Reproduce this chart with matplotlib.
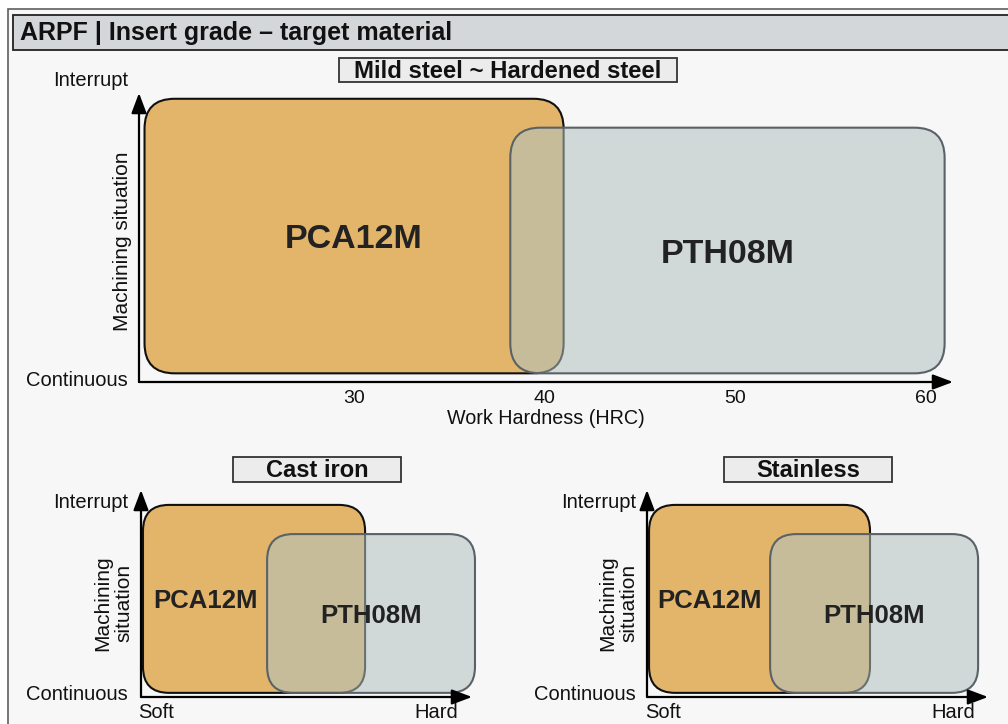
import matplotlib
matplotlib.use("Agg")
import matplotlib.pyplot as plt
from matplotlib.patches import FancyBboxPatch, Rectangle

plt.rcParams['font.family'] = ['Liberation Sans', 'DejaVu Sans']

W, H = 1008, 724

# ---------------- data ----------------
title = "ARPF | Insert grade – target material"
grades = ["PCA12M", "PTH08M"]
grade_face = ["#e2b56b", (0.69, 0.76, 0.75, 0.55)]
grade_edge = ["#111111", "#5a6268"]

# top chart: work hardness (HRC) vs machining situation (0 = continuous, 1 = interrupt)
steel_title = "Mild steel ~ Hardened steel"
steel_hrc_lo = [19.0, 38.2]
steel_hrc_hi = [41.0, 61.0]
steel_sit_lo = [0.03, 0.03]
steel_sit_hi = [0.98, 0.88]
hrc_ticks = [30, 40, 50, 60]
hrc_range = [18.71, 61.44]

# bottom charts: relative hardness (0 = soft, 1 = hard)
cast_title = "Cast iron"
cast_hard_lo = [0.006, 0.381]
cast_hard_hi = [0.677, 1.009]
cast_sit_lo = [0.02, 0.02]
cast_sit_hi = [0.928, 0.787]

stain_title = "Stainless"
stain_hard_lo = [0.006, 0.361]
stain_hard_hi = [0.654, 0.971]
stain_sit_lo = [0.02, 0.02]
stain_sit_hi = [0.928, 0.787]

TXT = "#111111"
LAB = 14.5

fig = plt.figure(figsize=(W / 100, H / 100), dpi=100, facecolor="white")

# background / frame in pixel coordinates
bg = fig.add_axes([0, 0, 1, 1], zorder=0)
bg.set_xlim(0, W)
bg.set_ylim(H, 0)
bg.axis("off")
bg.add_patch(Rectangle((8, 9), W, H, fc="#f7f7f7", ec="#5f5f5f", lw=1.2))
bg.add_patch(Rectangle((13, 15), W, 35, fc="#d3d7da", ec="#222222", lw=1.3))
bg.text(20, 33, title, fontsize=18, fontweight="bold", color=TXT, va="center", ha="left")


def heading(x0, x1, y0, y1, text, size):
    bg.add_patch(Rectangle((x0, y0), x1 - x0, y1 - y0, fc="#ececec", ec="#333333", lw=1.3))
    bg.text((x0 + x1) / 2, (y0 + y1) / 2 + 1, text, fontsize=size, fontweight="bold",
            color=TXT, ha="center", va="center")


heading(339, 677, 58, 82, steel_title, 17.2)
heading(233, 401, 457, 482, cast_title, 17)
heading(724, 892, 457, 482, stain_title, 17)


def px_axes(l, t, r, b):
    ax = fig.add_axes([l / W, 1 - b / H, (r - l) / W, (b - t) / H], zorder=2)
    ax.patch.set_alpha(0)
    for s in ax.spines.values():
        s.set_visible(False)
    return ax


def arrows(ax):
    style = "-|>,head_length=0.85,head_width=0.32"
    kw = dict(arrowstyle=style, mutation_scale=14.4, lw=1.6, color="black",
              shrinkA=0, shrinkB=0)
    ax.annotate("", xy=(1, 0), xytext=(0, 0), xycoords="axes fraction",
                textcoords="axes fraction", arrowprops=kw, annotation_clip=False)
    ax.annotate("", xy=(0, 1), xytext=(0, 0), xycoords="axes fraction",
                textcoords="axes fraction", arrowprops=kw, annotation_clip=False)


def boxes(ax, xlim, xlo, xhi, ylo, yhi, radius_px, label_size, label_mode):
    ax.set_xlim(*xlim)
    ax.set_ylim(0, 1)
    pos = ax.get_position()
    xu = (xlim[1] - xlim[0]) / (pos.width * W)
    yu = 1.0 / (pos.height * H)
    aspect = yu / xu
    for i in range(len(grades)):
        p = FancyBboxPatch((xlo[i], ylo[i]), xhi[i] - xlo[i], yhi[i] - ylo[i],
                           boxstyle=f"round,pad=0,rounding_size={radius_px * xu}",
                           mutation_aspect=aspect, fc=grade_face[i], ec=grade_edge[i],
                           lw=1.5, zorder=2 + i, clip_on=False)
        ax.add_patch(p)
    for i in range(len(grades)):
        if label_mode == "center" or i == 1:
            cx = (xlo[i] + xhi[i]) / 2
        else:
            cx = (xlo[0] + xlo[1]) / 2
        cy = (ylo[i] + yhi[i]) / 2
        ax.text(cx, cy, grades[i], fontsize=label_size, fontweight="bold",
                color="#222222", ha="center", va="center_baseline", zorder=5)


# ---------------- top chart ----------------
ax1 = px_axes(139, 93, 953, 382)
boxes(ax1, hrc_range, steel_hrc_lo, steel_hrc_hi, steel_sit_lo, steel_sit_hi, 30, 24.5, "center")
arrows(ax1)
ax1.set_xticks(hrc_ticks)
ax1.set_xticklabels([str(t) for t in hrc_ticks])
ax1.set_yticks([])
ax1.tick_params(axis="x", length=0, pad=6, labelsize=14, labelcolor=TXT)
ax1.set_xlabel("Work Hardness (HRC)", fontsize=14.2, color=TXT, labelpad=1)
bg.text(128, 80, "Interrupt", fontsize=LAB, color=TXT, ha="right", va="center")
bg.text(128, 380, "Continuous", fontsize=LAB, color=TXT, ha="right", va="center")
bg.text(122, 241, "Machining situation", fontsize=15, color=TXT, ha="center",
        va="center", rotation=90)

# ---------------- bottom-left: cast iron ----------------
ax2 = px_axes(141, 490, 472, 697)
boxes(ax2, (0, 1), cast_hard_lo, cast_hard_hi, cast_sit_lo, cast_sit_hi, 26, 18.5, "left")
arrows(ax2)
ax2.set_xticks([])
ax2.set_yticks([])
bg.text(128, 503, "Interrupt", fontsize=LAB, color=TXT, ha="right", va="center")
bg.text(128, 695, "Continuous", fontsize=LAB, color=TXT, ha="right", va="center")
bg.text(113, 603, "Machining\nsituation", fontsize=15, color=TXT, ha="center",
        va="center", rotation=90, linespacing=1.15)
bg.text(156, 713, "Soft", fontsize=LAB, color=TXT, ha="center", va="center")
bg.text(436, 713, "Hard", fontsize=LAB, color=TXT, ha="center", va="center")

# ---------------- bottom-right: stainless ----------------
ax3 = px_axes(647, 490, 988, 697)
boxes(ax3, (0, 1), stain_hard_lo, stain_hard_hi, stain_sit_lo, stain_sit_hi, 26, 18.5, "left")
arrows(ax3)
ax3.set_xticks([])
ax3.set_yticks([])
bg.text(636, 503, "Interrupt", fontsize=LAB, color=TXT, ha="right", va="center")
bg.text(636, 695, "Continuous", fontsize=LAB, color=TXT, ha="right", va="center")
bg.text(618, 603, "Machining\nsituation", fontsize=15, color=TXT, ha="center",
        va="center", rotation=90, linespacing=1.15)
bg.text(663, 713, "Soft", fontsize=LAB, color=TXT, ha="center", va="center")
bg.text(953, 713, "Hard", fontsize=LAB, color=TXT, ha="center", va="center")

fig.savefig("out.png", dpi=100, facecolor="white")
